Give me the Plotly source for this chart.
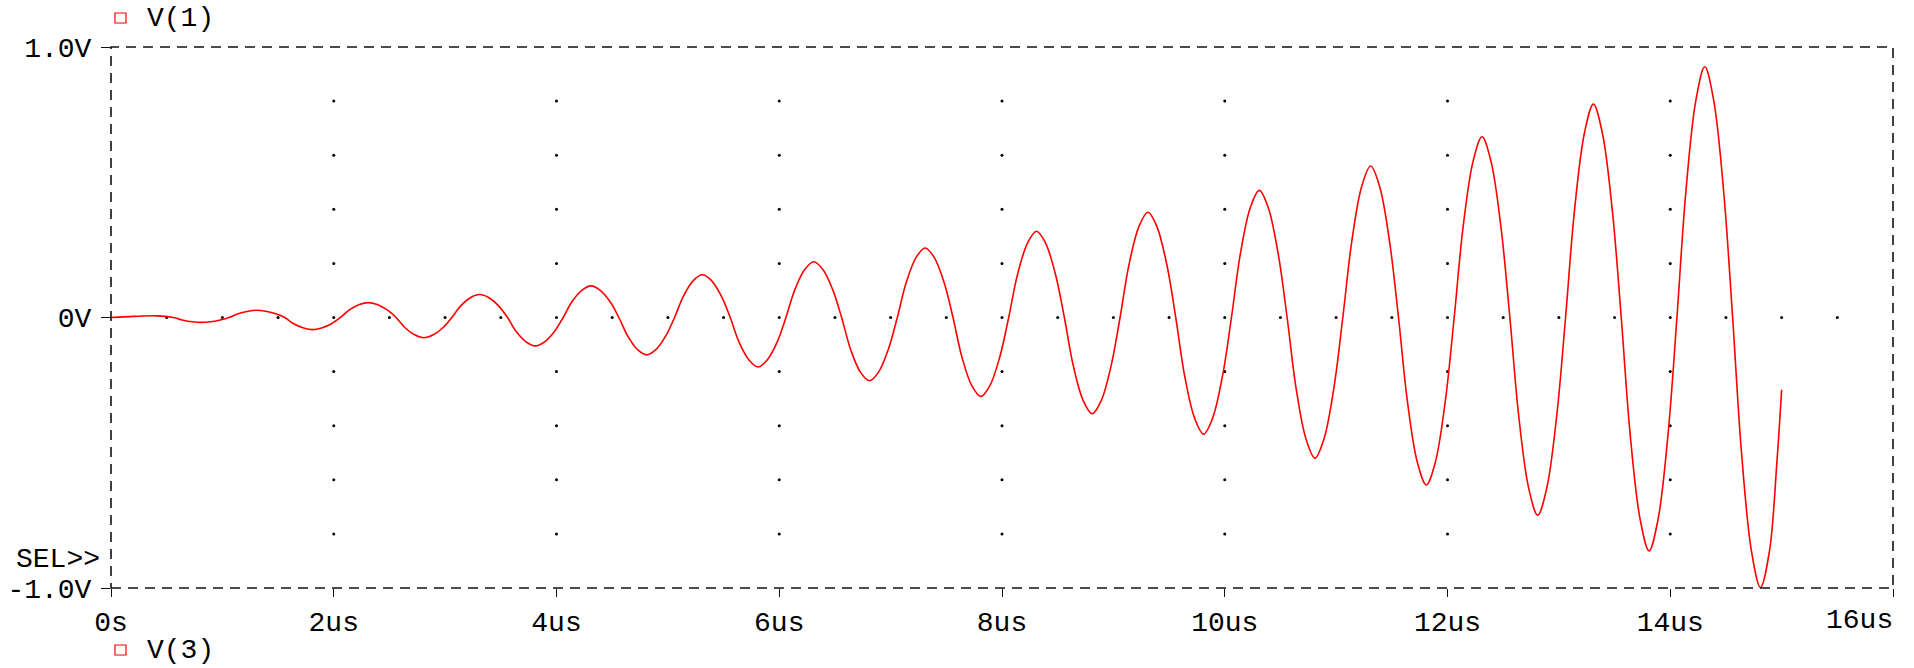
import plotly.graph_objects as go

# ---- data: time in us, voltage in V ----
t_us = [
    0.0, 0.2, 0.41, 0.56, 0.64, 0.73, 0.81, 0.89, 0.98,
    1.06, 1.14, 1.23, 1.31, 1.39, 1.48, 1.56, 1.64, 1.73, 1.81, 1.89, 1.98,
    2.06, 2.14, 2.23, 2.31, 2.39, 2.48, 2.56, 2.64, 2.73, 2.81, 2.89, 2.98,
    3.06, 3.14, 3.23, 3.31, 3.39, 3.48, 3.56, 3.64, 3.73, 3.81, 3.89, 3.98,
    4.06, 4.14, 4.23, 4.31, 4.39, 4.48, 4.56, 4.64, 4.73, 4.81, 4.89, 4.98,
    5.06, 5.14, 5.23, 5.31, 5.39, 5.48, 5.56, 5.64, 5.73, 5.81, 5.89, 5.98,
    6.06, 6.14, 6.23, 6.31, 6.39, 6.48, 6.56, 6.64, 6.73, 6.81, 6.89, 6.98,
    7.06, 7.14, 7.23, 7.31, 7.39, 7.48, 7.56, 7.64, 7.73, 7.81, 7.89, 7.98,
    8.06, 8.14, 8.23, 8.31, 8.39, 8.48, 8.56, 8.64, 8.73, 8.81, 8.89, 8.98,
    9.06, 9.14, 9.23, 9.31, 9.39, 9.48, 9.56, 9.64, 9.73, 9.81, 9.89, 9.98,
    10.06, 10.14, 10.23, 10.31, 10.39, 10.48, 10.56, 10.64, 10.73, 10.81, 10.89, 10.98,
    11.06, 11.14, 11.23, 11.31, 11.39, 11.48, 11.56, 11.64, 11.73, 11.81, 11.89, 11.98,
    12.06, 12.14, 12.23, 12.31, 12.39, 12.48, 12.56, 12.64, 12.73, 12.81, 12.89, 12.98,
    13.06, 13.14, 13.23, 13.31, 13.39, 13.48, 13.56, 13.64, 13.73, 13.81, 13.89, 13.98,
    14.06, 14.14, 14.23, 14.31, 14.39, 14.48, 14.56, 14.64, 14.73, 14.81, 14.89, 14.96,
    15.0,
]
v_volts = [
    0.0, 0.004, 0.006, 0.0, -0.009, -0.016, -0.018, -0.016, -0.009,
    0.0, 0.014, 0.023, 0.027, 0.023, 0.014, 0.0, -0.023, -0.039, -0.045, -0.039, -0.023,
    0.0, 0.028, 0.048, 0.055, 0.048, 0.028, 0.0, -0.038, -0.065, -0.075, -0.065, -0.038,
    0.0, 0.043, 0.074, 0.085, 0.074, 0.043, 0.0, -0.053, -0.091, -0.105, -0.091, -0.053,
    0.0, 0.059, 0.101, 0.117, 0.101, 0.059, 0.0, -0.069, -0.120, -0.138, -0.120, -0.069,
    0.0, 0.079, 0.137, 0.158, 0.137, 0.079, 0.0, -0.092, -0.158, -0.183, -0.158, -0.092,
    0.0, 0.103, 0.178, 0.206, 0.178, 0.103, 0.0, -0.117, -0.203, -0.234, -0.203, -0.117,
    0.0, 0.129, 0.223, 0.257, 0.223, 0.129, 0.0, -0.146, -0.253, -0.292, -0.253, -0.146,
    0.0, 0.160, 0.276, 0.319, 0.276, 0.160, 0.0, -0.178, -0.308, -0.356, -0.308, -0.178,
    0.0, 0.195, 0.337, 0.389, 0.337, 0.195, 0.0, -0.216, -0.373, -0.431, -0.373, -0.216,
    0.0, 0.235, 0.407, 0.470, 0.407, 0.235, 0.0, -0.260, -0.450, -0.520, -0.450, -0.260,
    0.0, 0.280, 0.485, 0.560, 0.485, 0.280, 0.0, -0.310, -0.536, -0.619, -0.536, -0.310,
    0.0, 0.334, 0.578, 0.668, 0.578, 0.334, 0.0, -0.366, -0.633, -0.731, -0.633, -0.366,
    0.0, 0.395, 0.683, 0.789, 0.683, 0.395, 0.0, -0.432, -0.747, -0.863, -0.747, -0.432,
    0.0, 0.464, 0.803, 0.927, 0.803, 0.464, 0.0, -0.500, -0.866, -0.998, -0.866, -0.520,
    -0.267,
]

x_tick_vals = [0, 2, 4, 6, 8, 10, 12, 14, 16]
x_tick_text = ["0s", "2us", "4us", "6us", "8us", "10us", "12us", "14us", "16us"]
y_tick_vals = [-1.0, 0.0, 1.0]
y_tick_text = ["-1.0V", "0V", "1.0V"]

# grid dot positions
grid_cols_us = [2, 4, 6, 8, 10, 12, 14]
grid_col_levels = [-0.8, -0.6, -0.4, -0.2, 0.2, 0.4, 0.6, 0.8]
grid_row_us = [0.5 * k for k in range(1, 32)]

trace_name = "V(3)"
legend_top = "V(1)"
legend_bottom = "V(3)"
sel_text = "SEL>>"

FONT = "Liberation Mono, Courier New, monospace"
FS = 28

dot_x = [c for c in grid_cols_us for _ in grid_col_levels] + grid_row_us
dot_y = [lv for _ in grid_cols_us for lv in grid_col_levels] + [0.0] * len(grid_row_us)

fig = go.Figure()
fig.add_trace(go.Scatter(x=dot_x, y=dot_y, mode="markers",
                         marker=dict(color="black", size=3, line=dict(width=0)),
                         hoverinfo="skip", showlegend=False))
fig.add_trace(go.Scatter(x=t_us, y=v_volts, mode="lines", name=trace_name,
                         line=dict(color="#ff0000", width=1.6, shape="spline", smoothing=1.0),
                         showlegend=False))

fig.update_layout(
    width=1914, height=668,
    margin=dict(l=111, r=21, t=47, b=80, autoexpand=False),
    plot_bgcolor="white", paper_bgcolor="white",
    font=dict(family=FONT, size=FS, color="black"),
    showlegend=False,
)
# the last x label (16us) is right-aligned to the frame, drawn separately
axis_text = x_tick_text[:-1] + [""]
fig.update_xaxes(range=[0, 16], tickmode="array", tickvals=x_tick_vals, ticktext=axis_text,
                 showgrid=False, zeroline=False, showline=False,
                 ticks="outside", ticklen=8, tickwidth=1.3, tickcolor="#111",
                 tickfont=dict(family=FONT, size=FS, color="black"))
fig.update_yaxes(range=[-1, 1], tickmode="array", tickvals=y_tick_vals, ticktext=y_tick_text,
                 showgrid=False, zeroline=False, showline=False,
                 ticks="outside", ticklen=9, tickwidth=1.3, tickcolor="#111",
                 ticklabelstandoff=4,
                 tickfont=dict(family=FONT, size=FS, color="black"))

fig.add_annotation(text=x_tick_text[-1], xref="paper", yref="paper", x=1, y=0,
                   xanchor="right", yanchor="middle", xshift=2, yshift=-32,
                   showarrow=False, font=dict(family=FONT, size=FS, color="black"))

# dashed frame
fig.add_shape(type="rect", xref="paper", yref="paper", x0=0, x1=1, y0=0, y1=1,
              line=dict(color="#111", width=1.6, dash="10px,7px"), layer="above")

# legend squares
for ya, y0, y1 in [(1, 24, 34), (0, -57, -67)]:
    fig.add_shape(type="rect", xref="paper", yref="paper",
                  xsizemode="pixel", ysizemode="pixel", xanchor=0, yanchor=ya,
                  x0=4, x1=15, y0=y0, y1=y1,
                  line=dict(color="#ff0000", width=1.2), fillcolor="rgba(0,0,0,0)")

fig.add_annotation(text=legend_top, xref="paper", yref="paper", x=0, y=1,
                   xanchor="left", yanchor="middle", xshift=34, yshift=29,
                   showarrow=False, font=dict(family=FONT, size=FS, color="black"))
fig.add_annotation(text=legend_bottom, xref="paper", yref="paper", x=0, y=0,
                   xanchor="left", yanchor="middle", xshift=34, yshift=-62,
                   showarrow=False, font=dict(family=FONT, size=FS, color="black"))
fig.add_annotation(text=sel_text, xref="paper", yref="paper", x=0, y=0,
                   xanchor="right", yanchor="middle", xshift=-9, yshift=29,
                   showarrow=False, font=dict(family=FONT, size=FS, color="black"))

fig.write_html("out.html")
